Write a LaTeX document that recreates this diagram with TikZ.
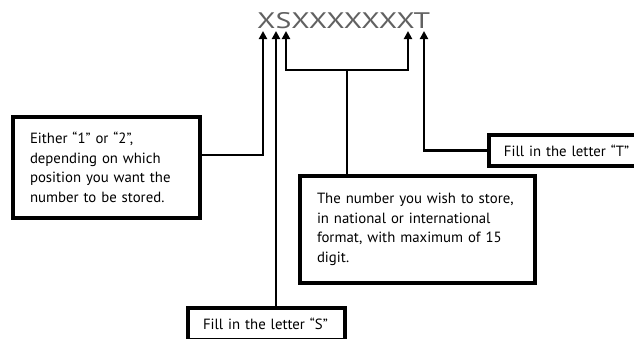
\documentclass[tikz,border=0pt]{standalone}
\usepackage{fontspec}
\setmainfont{PT Sans}
\usetikzlibrary{arrows.meta}
\begin{document}
\begin{tikzpicture}[x=1pt,y=-1pt,
  box/.style={draw=black,line width=3.8pt,fill=white,align=left,inner xsep=17pt,inner ysep=4pt,
    font=\fontsize{14.8}{19.5}\selectfont},
  conn/.style={line width=2.2pt},
  bracket/.style={line width=2.8pt},
  arr/.style={-{Triangle[width=8pt,length=8pt]}}]
\clip (0,0) rectangle (634,338);
\fill[white] (0,0) rectangle (634,338);
% title
\node[inner sep=0pt,anchor=north west,text=black!62] (title) at (257,12)
  {\resizebox{173pt}{16pt}{\fontsize{22}{22}\selectfont XSXXXXXXXT}};
\coordinate (tipX) at (263,31);
\coordinate (tipS) at (276,31);
\coordinate (tip3) at (286,31);
\coordinate (tip9) at (408,31);
\coordinate (tipT) at (424,31);
\coordinate (brk) at (347,70);
% boxes
\node[box,text width=153pt,minimum height=101pt] (lbox) at (106.5,167.5)
  {\mbox{Either “1” or “2”,}\\\mbox{depending on which}\\\mbox{position you want the}\\\mbox{number to be stored.}};
\node[box,text width=201pt,minimum height=107pt] (nbox) at (417.5,229.5)
  {\mbox{The number you wish to store,}\\\mbox{in national or international}\\\mbox{format, with maximum of 15}\\\mbox{digit.}};
\node[box,text width=130pt,inner xsep=15pt,minimum height=31pt,anchor=west] (tbox) at (487,150.5)
  {\mbox{Fill in the letter “T”}};
\node[box,text width=127pt,inner xsep=15pt,minimum height=32pt] (sbox) at (266.5,324)
  {\mbox{Fill in the letter “S”}};
% connectors
\draw[conn,arr] ([yshift=12.5pt]lbox.east) -| (tipX);
\draw[conn,arr] (sbox.north -| tipS) -- (tipS);
\draw[bracket] (nbox.north -| brk) -- (brk);
\draw[bracket,arr] (brk) -| (tip3);
\draw[bracket,arr] (brk) -| (tip9);
\draw[conn,arr] (tbox.west) -| (tipT);
\end{tikzpicture}
\end{document}
